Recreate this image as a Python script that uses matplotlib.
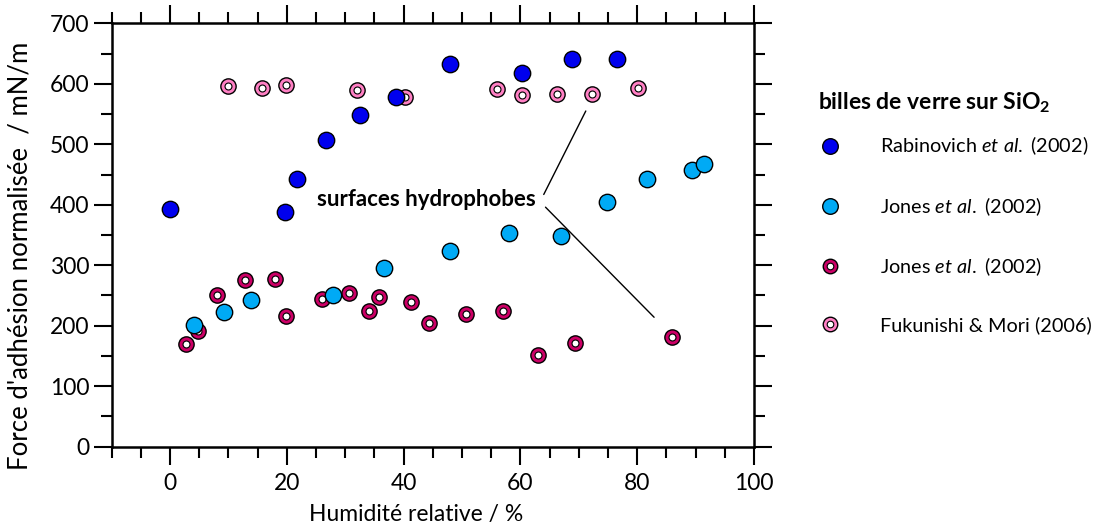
import matplotlib
matplotlib.use("Agg")
import matplotlib.pyplot as plt
from matplotlib.ticker import MultipleLocator
from matplotlib.legend_handler import HandlerTuple

plt.rcParams['font.family'] = ['Lato', 'DejaVu Sans']
plt.rcParams['mathtext.fontset'] = 'custom'
plt.rcParams['mathtext.rm'] = 'Lato'
plt.rcParams['mathtext.it'] = 'Lato:italic'
plt.rcParams['mathtext.bf'] = 'Lato:bold'

# Rabinovich et al. (2002) - dark blue
rab_x = [0, 19.7, 21.8, 26.7, 32.6, 38.7, 48.0, 60.3, 68.9, 76.6]
rab_y = [393, 388, 442, 507, 548, 578, 633, 618, 641, 641]

# Jones et al. (2002) - light blue
jon_x = [4.1, 9.3, 13.9, 27.9, 36.7, 47.9, 58.0, 67.0, 74.9, 81.7, 89.4, 91.4]
jon_y = [202, 222, 242, 250, 296, 323, 354, 349, 404, 442, 458, 467]

# Jones et al. (2002) - hydrophobic, magenta rings
jonh_x = [2.7, 4.8, 8.0, 12.9, 17.9, 19.8, 26.0, 30.7, 34.1, 35.7, 41.3,
          44.3, 50.7, 57.0, 63.0, 69.4, 86.0]
jonh_y = [170, 192, 250, 275, 278, 216, 244, 254, 225, 248, 239,
          204, 219, 225, 152, 172, 181]

# Fukunishi & Mori (2006) - hydrophobic, pink rings
fuk_x = [10.0, 15.8, 19.9, 32.1, 40.3, 56.0, 60.2, 66.2, 72.2, 80.1]
fuk_y = [597, 593, 598, 590, 578, 592, 581, 583, 583, 593]

dark_blue = '#0000EE'
light_blue = '#00AAF5'
magenta = '#CC0066'
pink = '#FF80C4'

fig = plt.figure(figsize=(10.96, 5.31), dpi=100)
ax = fig.add_axes([0.1019, 0.1588, 0.586, 0.7973])

# rings: coloured disc with a small white centre
fuk_outer, = ax.plot(fuk_x, fuk_y, 'o', ms=11, mfc=pink, mec='black', mew=1, ls='none', zorder=3)
fuk_inner, = ax.plot(fuk_x, fuk_y, 'o', ms=5, mfc='white', mec='black', mew=0.8, ls='none', zorder=3)
rab, = ax.plot(rab_x, rab_y, 'o', ms=11.8, mfc=dark_blue, mec='black', mew=1, ls='none', zorder=4)
jonh_outer, = ax.plot(jonh_x, jonh_y, 'o', ms=11, mfc=magenta, mec='black', mew=1, ls='none', zorder=3)
jonh_inner, = ax.plot(jonh_x, jonh_y, 'o', ms=5, mfc='white', mec='black', mew=0.8, ls='none', zorder=3)
jon, = ax.plot(jon_x, jon_y, 'o', ms=11.8, mfc=light_blue, mec='black', mew=1, ls='none', zorder=4)

ax.set_xlim(-10, 100)
ax.set_ylim(0, 700)

ax.xaxis.set_major_locator(MultipleLocator(20))
ax.xaxis.set_minor_locator(MultipleLocator(5))
ax.yaxis.set_major_locator(MultipleLocator(100))
ax.yaxis.set_minor_locator(MultipleLocator(50))
ax.tick_params(which='both', direction='out', top=True, right=True, width=1.5, labelsize=16.5)
ax.tick_params(which='major', length=13)
ax.tick_params(which='minor', length=8)
ax.tick_params(axis='x', pad=6)
ax.tick_params(axis='y', pad=3)
for sp in ax.spines.values():
    sp.set_linewidth(1.8)

ax.set_xlabel('Humidité relative / %', fontsize=16.5)
ax.xaxis.set_label_coords(0.474, -0.135)
ax.set_ylabel("Force d'adhésion normalisée  / mN/m", fontsize=18.5)
ax.yaxis.set_label_coords(-0.123, 0.45)

# annotation
ax.text(25.2, 409, 'surfaces hydrophobes', fontsize=16, fontweight='bold', va='center', ha='left')
ax.annotate('', xy=(71.2, 555), xytext=(64.0, 417),
            arrowprops=dict(arrowstyle='-', lw=1, color='black', shrinkA=0, shrinkB=0))
ax.annotate('', xy=(82.9, 214), xytext=(64.3, 396),
            arrowprops=dict(arrowstyle='-', lw=1, color='black', shrinkA=0, shrinkB=0))

labels = ['Rabinovich $\\it{et\\ al.}$ (2002)', 'Jones $\\it{et\\ al.}$ (2002)',
          'Jones $\\it{et\\ al.}$ (2002)', 'Fukunishi & Mori (2006)']
leg = ax.legend([rab, jon, (jonh_outer, jonh_inner), (fuk_outer, fuk_inner)], labels,
                handler_map={tuple: HandlerTuple(ndivide=1, pad=0)},
                loc='upper left', bbox_to_anchor=(818 / 1096, 1 - 90 / 531),
                bbox_transform=fig.transFigure, frameon=False, fontsize=14.3,
                title='billes de verre sur SiO$_\\mathbf{2}$',
                title_fontproperties={'weight': 'bold', 'size': 16.5},
                handlelength=1.2, handletextpad=1.9, labelspacing=1.9, borderpad=0,
                borderaxespad=0, markerscale=0.95)
leg._legend_box.align = 'left'
leg._legend_box.sep = 14.5  # tighter gap between title and first entry

fig.savefig('out.png', dpi=100)
